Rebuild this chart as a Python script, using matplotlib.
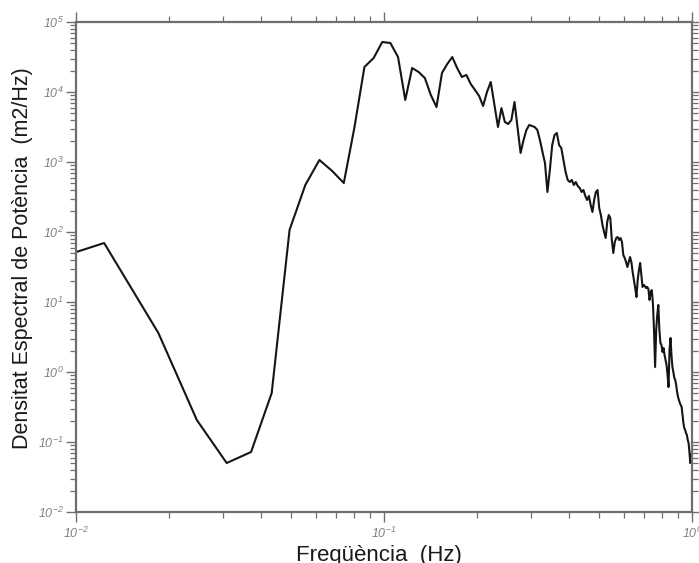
import numpy as np
import matplotlib
matplotlib.use("Agg")
import matplotlib.pyplot as plt
from matplotlib.ticker import LogLocator, FuncFormatter, NullFormatter

plt.rcParams["font.family"] = ["Liberation Sans", "DejaVu Sans"]
plt.rcParams["mathtext.fontset"] = "custom"
plt.rcParams["mathtext.rm"] = "Liberation Sans:italic"
plt.rcParams["mathtext.it"] = "Liberation Sans:italic"
plt.rcParams["mathtext.default"] = "it"

# Periodogram: frequency resolution (Hz) and power spectral density (m2/Hz)
DF = 0.00617
psd = [26.0, 69.6, 3.61, 0.206, 0.0501, 0.0720, 0.501, 107, 469, 1069,
       744, 501, 3162, 22760, 30600, 51800, 50100, 31600, 7690, 22000,
       19300, 15800, 9060, 6100, 18700, 25100, 31600, 22000, 16400, 17500,
       13000, 10700, 8770, 6310, 10000, 13900, 6520, 3160, 5900, 3730,
       3490, 3980, 7200, 3060, 1345, 2060, 2870, 3380, 3270, 3160,
       2870, 2060, 1390, 968, 373, 769, 1750, 2430, 2600, 1750,
       1585, 1069, 720, 553, 518, 553, 469, 518, 454, 425,
       373, 398, 327, 287, 327, 243, 193, 287, 373, 398,
       220, 175, 126, 100, 82.1, 139, 175, 158, 76.9, 50.1,
       72.0, 82.1, 84.8, 76.9, 82.1, 72.0, 46.9, 42.5, 37.3, 31.6,
       37.3, 43.9, 37.3, 26.8, 20.6, 15.8, 11.8, 20.6, 28.7, 36.1,
       24.3, 16.4, 17.5, 16.9, 15.8, 16.4, 15.3, 10.7, 13.9, 14.8,
       9.68, 3.98, 1.18, 3.98, 6.52, 9.06, 3.98, 2.60, 2.43, 1.93,
       2.20, 1.75, 1.48, 1.26, 0.906, 0.610, 2.06, 3.06, 1.75, 1.18,
       1.0, 0.821, 0.769, 0.652, 0.518, 0.439, 0.398, 0.361, 0.338, 0.316,
       0.243, 0.187, 0.158, 0.148, 0.134, 0.126, 0.107, 0.0967, 0.0720, 0.0501,
       0.0652, 0.0697]
freq = np.arange(1, len(psd) + 1) * DF

x_label = "Freqüència  (Hz)"
y_label = "Densitat Espectral de Potència  (m2/Hz)"

W, H = 699, 563
fig = plt.figure(figsize=(W / 100, H / 100), dpi=100)
ax = fig.add_axes([76 / W, 1 - 512 / H, 616 / W, 490 / H])

ax.plot(freq, psd, color="#151515", lw=1.5)
ax.set_xscale("log")
ax.set_yscale("log")
ax.set_xlim(0.01, 1.0)
ax.set_ylim(0.01, 1e5)

frame = "#6e6e6e"
for s in ax.spines.values():
    s.set_color(frame)
    s.set_linewidth(1.6)

fmt = FuncFormatter(lambda v, p: r"$10^{%d}$" % int(round(np.log10(v))))
for axis in (ax.xaxis, ax.yaxis):
    axis.set_major_locator(LogLocator(base=10, numticks=20))
    axis.set_minor_locator(LogLocator(base=10, subs=np.arange(2, 10), numticks=20))
    axis.set_major_formatter(fmt)
    axis.set_minor_formatter(NullFormatter())

ax.tick_params(which="both", direction="out", top=True, right=True,
               labeltop=False, labelright=False, color=frame,
               labelcolor="#808080", labelsize=9)
ax.tick_params(which="major", length=7, width=1.0)
ax.tick_params(which="minor", length=4, width=0.9)
ax.tick_params(axis="y", pad=2)
ax.tick_params(axis="x", pad=3)

fig.text(379 / W, 1 - 561.5 / H, x_label, ha="center", va="baseline",
         fontsize=16, color="#1a1a1a")
fig.text(23 / W, 1 - 258 / H, y_label, ha="center", va="center",
         rotation=90, fontsize=15.5, color="#1a1a1a")

fig.savefig("out.png", dpi=100)
